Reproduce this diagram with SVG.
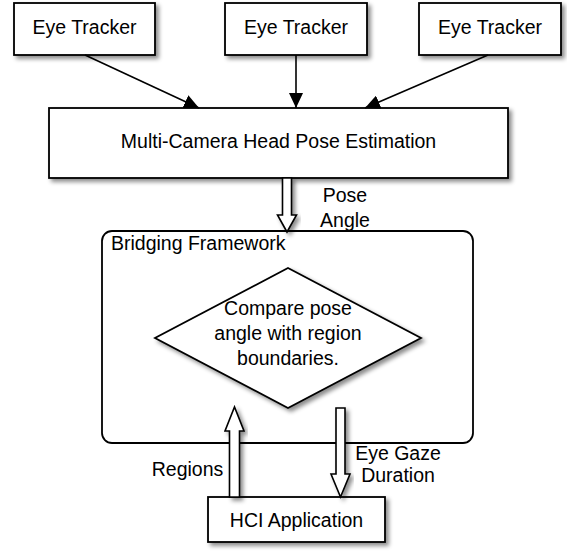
<svg xmlns="http://www.w3.org/2000/svg" width="567" height="555" viewBox="0 0 567 555">
  <style>
    .box { fill: #ffffff; stroke: #000000; stroke-width: 1.8; }
    .frame { fill: none; stroke: #000000; stroke-width: 1.8; }
    .label { font-family: "Liberation Sans", Arial, Helvetica, sans-serif; font-size: 19.5px; fill: #000000; }
    .mid { text-anchor: middle; }
    .wire { stroke: #000000; stroke-width: 1.6; fill: none; }
    .hollow { fill: #ffffff; stroke: #000000; stroke-width: 1.6; stroke-linejoin: miter; }
  </style>
  <defs>
    <filter id="shadow" x="-10%" y="-10%" width="130%" height="140%">
      <feDropShadow dx="3" dy="3" stdDeviation="2" flood-color="#000000" flood-opacity="0.45"/>
    </filter>
    <marker id="head" markerUnits="userSpaceOnUse" markerWidth="16" markerHeight="14" refX="15" refY="7" orient="auto">
      <path d="M0,0 L15,7 L0,14 Z" fill="#000000"/>
    </marker>
  </defs>

  <!-- container -->
  <g id="bridging-framework">
    <rect class="frame" x="102" y="231" width="371" height="212" rx="10" ry="10"/>
    <text class="label" x="111" y="250">Bridging Framework</text>
  </g>

  <g id="eye-tracker-1">
    <rect class="box" x="14" y="3" width="141" height="52" filter="url(#shadow)"/>
    <text class="label mid" x="84.5" y="34">Eye Tracker</text>
  </g>
  <g id="eye-tracker-2">
    <rect class="box" x="225" y="3" width="142" height="52" filter="url(#shadow)"/>
    <text class="label mid" x="296" y="34">Eye Tracker</text>
  </g>
  <g id="eye-tracker-3">
    <rect class="box" x="419" y="3" width="142" height="52" filter="url(#shadow)"/>
    <text class="label mid" x="490" y="34">Eye Tracker</text>
  </g>

  <g id="head-pose">
    <rect class="box" x="49" y="108" width="459" height="70" filter="url(#shadow)"/>
    <text class="label mid" x="278.5" y="148">Multi-Camera Head Pose Estimation</text>
  </g>

  <g id="compare">
    <polygon class="box" points="288,268 421,338 288,408 155,338" filter="url(#shadow)"/>
    <text class="label mid" x="288" y="315">Compare pose</text>
    <text class="label mid" x="288" y="340">angle with region</text>
    <text class="label mid" x="288" y="365">boundaries.</text>
  </g>

  <g id="hci-application">
    <rect class="box" x="208" y="497" width="177" height="45" filter="url(#shadow)"/>
    <text class="label mid" x="296.5" y="527">HCI Application</text>
  </g>

  <g id="connectors">
    <line class="wire" x1="85" y1="55" x2="199" y2="108" marker-end="url(#head)"/>
    <line class="wire" x1="296" y1="55" x2="296" y2="108" marker-end="url(#head)"/>
    <line class="wire" x1="488" y1="55" x2="365" y2="108" marker-end="url(#head)"/>

    <polygon class="hollow" filter="url(#shadow)" points="282.5,178 291.5,178 291.5,215 296.5,215 287,232 277.5,215 282.5,215"/>
    <text class="label mid" x="345" y="202">Pose</text>
    <text class="label mid" x="345" y="227">Angle</text>

    <polygon class="hollow" filter="url(#shadow)" points="229.5,497 229.5,431 225,431 234.5,407 244,431 239.5,431 239.5,497"/>
    <text class="label mid" x="187.5" y="476">Regions</text>

    <polygon class="hollow" filter="url(#shadow)" points="336,408 345,408 345,474 350,474 340.5,497 331,474 336,474"/>
    <text class="label mid" x="398" y="460">Eye Gaze</text>
    <text class="label mid" x="398" y="482">Duration</text>
  </g>
</svg>
